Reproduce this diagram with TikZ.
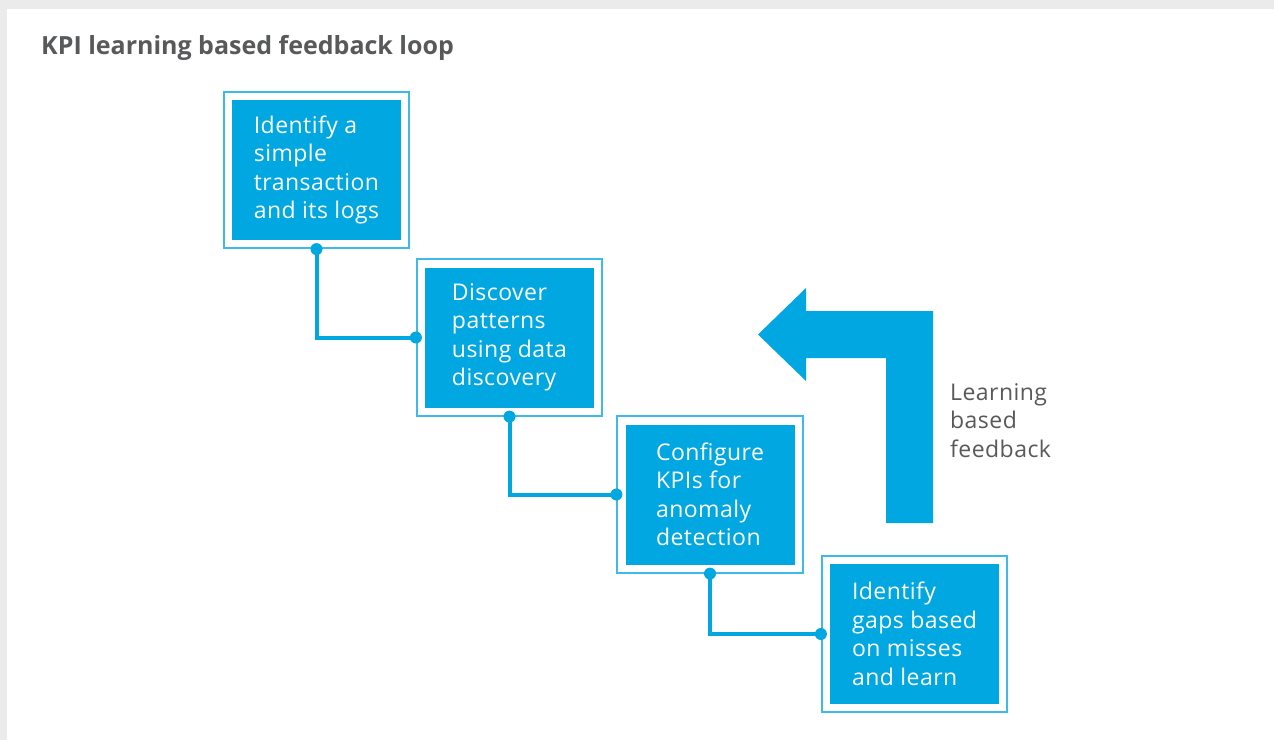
\documentclass[tikz,border=0pt]{standalone}
\usepackage{fontspec}
\setmainfont{Open Sans}[LetterSpace=2]
\newfontfamily\titlefont{Open Sans}
\usetikzlibrary{fit,positioning}
\definecolor{kpiblue}{HTML}{00A7E1}
\definecolor{kpiframe}{HTML}{3DB9EA}
\definecolor{kpigray}{HTML}{58595B}
\definecolor{pagegray}{HTML}{EBEBEB}

\begin{document}
\begin{tikzpicture}[x=1pt,y=-1pt,
    stepbox/.style={fill=kpiblue, text=white, minimum width=169pt,
        minimum height=140pt, inner sep=0pt, align=left,
        font=\fontsize{23}{28.5}\selectfont},
    ring/.style={draw=kpiframe, line width=1.8pt, inner sep=8pt},
    link/.style={draw=kpiblue, line width=4pt}]

    % Page and panel.
    \fill[pagegray] (0,0) rectangle (1274,740);
    \fill[white] (7,9) rectangle (1274,740);
    \useasboundingbox (0,0) rectangle (1274,740);

    \node[anchor=base west, inner sep=0pt, text=kpigray,
        font=\titlefont\bfseries\fontsize{25}{30}\selectfont] (title) at (41,54)
        {KPI learning based feedback loop};

    % Steps of the loop.
    \node[stepbox] (task1) at (316.5,170) {Identify a\\simple\\transaction\\and its logs};
    \node[stepbox] (task2) at (509.5,337.5) {Discover\\patterns\\using data\\discovery};
    \node[stepbox] (task3) at (710,494.5) {Configure\\KPIs for\\anomaly\\detection};
    \node[stepbox] (task4) at (914.5,634) {Identify\\gaps based\\on misses\\and learn};

    \foreach \i in {1,...,4}
        \node[ring, fit=(task\i)] (ring\i) {};

    % Connectors between steps.
    \foreach \i/\j in {1/2,2/3,3/4} {
        \draw[link] (ring\i.south) |- (ring\j.west);
        \fill[kpiblue] (ring\i.south) circle (6) (ring\j.west) circle (6);
    }

    % Feedback arrow.
    \fill[kpiblue] (933,523) -- (933,311) -- (806,311) -- (806,288) -- (758,334.5)
        -- (806,381) -- (806,358) -- (886,358) -- (886,523) -- cycle;
    \node[anchor=base west, align=left, inner sep=0pt, text=kpigray,
        font=\fontsize{23}{28.5}\selectfont] (fbtext) at (950,457)
        {Learning\\based\\feedback};

\end{tikzpicture}
\end{document}
